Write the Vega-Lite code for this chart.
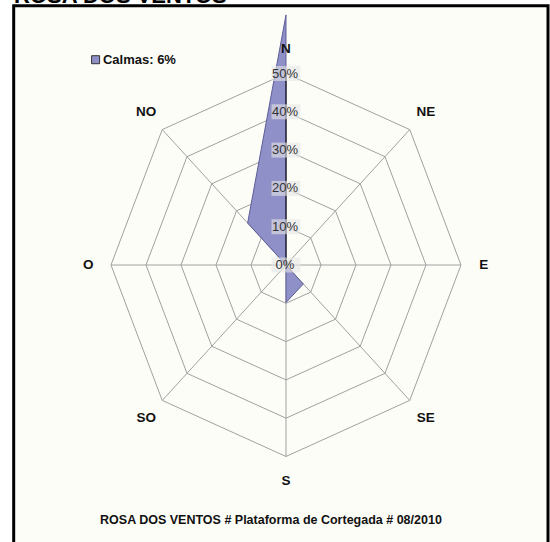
{
  "$schema": "https://vega.github.io/schema/vega-lite/v6.json",
  "width": 550,
  "height": 542,
  "padding": 0,
  "autosize": {"type": "none"},
  "background": "white",
  "config": {"view": {"stroke": null}, "font": "Liberation Sans"},
  "datasets": {
    "dirs": [
      {"dir": "N", "val": 65.3, "serie": "Calmas: 6%"},
      {"dir": "NE", "val": 0, "serie": "Calmas: 6%"},
      {"dir": "E", "val": 0, "serie": "Calmas: 6%"},
      {"dir": "SE", "val": 7, "serie": "Calmas: 6%"},
      {"dir": "S", "val": 9.8, "serie": "Calmas: 6%"},
      {"dir": "SO", "val": 0, "serie": "Calmas: 6%"},
      {"dir": "O", "val": 0, "serie": "Calmas: 6%"},
      {"dir": "NO", "val": 15.5, "serie": "Calmas: 6%"}
    ],
    "grid": [
      {"dir": "N", "ring": 0}, {"dir": "N", "ring": 10}, {"dir": "N", "ring": 20}, {"dir": "N", "ring": 30}, {"dir": "N", "ring": 40}, {"dir": "N", "ring": 50},
      {"dir": "NE", "ring": 0}, {"dir": "NE", "ring": 10}, {"dir": "NE", "ring": 20}, {"dir": "NE", "ring": 30}, {"dir": "NE", "ring": 40}, {"dir": "NE", "ring": 50},
      {"dir": "E", "ring": 0}, {"dir": "E", "ring": 10}, {"dir": "E", "ring": 20}, {"dir": "E", "ring": 30}, {"dir": "E", "ring": 40}, {"dir": "E", "ring": 50},
      {"dir": "SE", "ring": 0}, {"dir": "SE", "ring": 10}, {"dir": "SE", "ring": 20}, {"dir": "SE", "ring": 30}, {"dir": "SE", "ring": 40}, {"dir": "SE", "ring": 50},
      {"dir": "S", "ring": 0}, {"dir": "S", "ring": 10}, {"dir": "S", "ring": 20}, {"dir": "S", "ring": 30}, {"dir": "S", "ring": 40}, {"dir": "S", "ring": 50},
      {"dir": "SO", "ring": 0}, {"dir": "SO", "ring": 10}, {"dir": "SO", "ring": 20}, {"dir": "SO", "ring": 30}, {"dir": "SO", "ring": 40}, {"dir": "SO", "ring": 50},
      {"dir": "O", "ring": 0}, {"dir": "O", "ring": 10}, {"dir": "O", "ring": 20}, {"dir": "O", "ring": 30}, {"dir": "O", "ring": 40}, {"dir": "O", "ring": 50},
      {"dir": "NO", "ring": 0}, {"dir": "NO", "ring": 10}, {"dir": "NO", "ring": 20}, {"dir": "NO", "ring": 30}, {"dir": "NO", "ring": 40}, {"dir": "NO", "ring": 50}
    ],
    "ticks": [
      {"lab": "0%", "v": 0},
      {"lab": "10%", "v": 10},
      {"lab": "20%", "v": 20},
      {"lab": "30%", "v": 30},
      {"lab": "40%", "v": 40},
      {"lab": "50%", "v": 50}
    ],
    "one": [{"t": "ROSA DOS VENTOS # Plataforma de Cortegada # 08/2010", "h": "ROSA DOS VENTOS", "serie": "Calmas: 6%"}]
  },
  "layer": [
    {
      "data": {"name": "one"},
      "transform": [
        {"calculate": "-77.8", "as": "fx1"},
        {"calculate": "74.86", "as": "fx2"},
        {"calculate": "67.7", "as": "fy1"},
        {"calculate": "-80", "as": "fy2"}
      ],
      "mark": {"type": "rect", "fill": "#fdfdf8", "stroke": "#000000", "strokeWidth": 3, "clip": true},
      "encoding": {
        "x": {"field": "fx1", "type": "quantitative", "scale": {"domain": [-81.714, 75.429], "nice": false, "zero": false}, "axis": null},
        "x2": {"field": "fx2"},
        "y": {"field": "fy1", "type": "quantitative", "scale": {"domain": [-72.324, 69.191], "nice": false, "zero": false}, "axis": null},
        "y2": {"field": "fy2"}
      }
    },
    {
      "data": {"name": "grid"},
      "transform": [
        {"filter": "datum.ring > 0"},
        {"calculate": "indexof(['N','NE','E','SE','S','SO','O','NO'], datum.dir)", "as": "k"},
        {"calculate": "datum.ring*sin(datum.k*PI/4)", "as": "x"},
        {"calculate": "datum.ring*cos(datum.k*PI/4)", "as": "y"}
      ],
      "mark": {"type": "line", "interpolate": "linear-closed", "stroke": "#a0a0a0", "strokeWidth": 1},
      "encoding": {
        "x": {"field": "x", "type": "quantitative", "axis": null},
        "y": {"field": "y", "type": "quantitative", "axis": null},
        "detail": {"field": "ring", "type": "nominal"},
        "order": {"field": "k", "type": "quantitative"}
      }
    },
    {
      "data": {"name": "grid"},
      "transform": [
        {"filter": "datum.ring == 0 || datum.ring == 50"},
        {"calculate": "indexof(['N','NE','E','SE','S','SO','O','NO'], datum.dir)", "as": "k"},
        {"calculate": "datum.ring*sin(datum.k*PI/4)", "as": "x"},
        {"calculate": "datum.ring*cos(datum.k*PI/4)", "as": "y"}
      ],
      "mark": {"type": "line", "stroke": "#a0a0a0", "strokeWidth": 1},
      "encoding": {
        "x": {"field": "x", "type": "quantitative", "axis": null},
        "y": {"field": "y", "type": "quantitative", "axis": null},
        "detail": {"field": "dir", "type": "nominal"},
        "order": {"field": "ring", "type": "quantitative"}
      }
    },
    {
      "data": {"name": "dirs"},
      "transform": [
        {"calculate": "indexof(['N','NE','E','SE','S','SO','O','NO'], datum.dir)", "as": "k"},
        {"calculate": "datum.val*sin(datum.k*PI/4)", "as": "x"},
        {"calculate": "datum.val*cos(datum.k*PI/4)", "as": "y"}
      ],
      "mark": {"type": "line", "interpolate": "linear-closed", "stroke": "#5d5d98", "strokeWidth": 1, "fill": "#9090c8", "fillOpacity": 1},
      "encoding": {
        "x": {"field": "x", "type": "quantitative", "axis": null},
        "y": {"field": "y", "type": "quantitative", "axis": null},
        "order": {"field": "k", "type": "quantitative"}
      }
    },
    {
      "data": {"name": "grid"},
      "transform": [
        {"filter": "datum.dir == 'N' && (datum.ring == 0 || datum.ring == 50)"},
        {"calculate": "0", "as": "x"}
      ],
      "mark": {"type": "line", "stroke": "#000000", "strokeWidth": 1},
      "encoding": {
        "x": {"field": "x", "type": "quantitative", "axis": null},
        "y": {"field": "ring", "type": "quantitative", "axis": null},
        "order": {"field": "ring", "type": "quantitative"}
      }
    },
    {
      "data": {"name": "ticks"},
      "transform": [{"calculate": "0", "as": "x"}],
      "mark": {"type": "point", "shape": "M-1.45,-0.75L1.45,-0.75L1.45,0.75L-1.45,0.75Z", "size": 400, "filled": true, "fill": "#e6e6e6", "fillOpacity": 0.6, "strokeWidth": 0},
      "encoding": {
        "x": {"field": "x", "type": "quantitative", "axis": null},
        "y": {"field": "v", "type": "quantitative", "axis": null}
      }
    },
    {
      "data": {"name": "ticks"},
      "transform": [{"calculate": "0", "as": "x"}],
      "mark": {"type": "text", "fontSize": 13, "color": "#333333", "align": "center", "baseline": "middle", "dx": -1},
      "encoding": {
        "x": {"field": "x", "type": "quantitative", "axis": null},
        "y": {"field": "v", "type": "quantitative", "axis": null},
        "text": {"field": "lab", "type": "nominal"}
      }
    },
    {
      "data": {"name": "dirs"},
      "transform": [
        {"calculate": "indexof(['N','NE','E','SE','S','SO','O','NO'], datum.dir)", "as": "k"},
        {"calculate": "56.5*sin(datum.k*PI/4)", "as": "xl"},
        {"calculate": "56.5*cos(datum.k*PI/4)", "as": "yl"}
      ],
      "mark": {"type": "text", "fontSize": 13.5, "fontWeight": "bold", "color": "#111111", "align": "center", "baseline": "middle"},
      "encoding": {
        "x": {"field": "xl", "type": "quantitative", "axis": null},
        "y": {"field": "yl", "type": "quantitative", "axis": null},
        "text": {"field": "dir", "type": "nominal"}
      }
    },
    {
      "data": {"name": "one"},
      "transform": [
        {"calculate": "-54.4", "as": "lx"},
        {"calculate": "53.6", "as": "ly"}
      ],
      "mark": {"type": "point", "shape": "square", "size": 64, "filled": true, "fill": "#9090c8", "stroke": "#333333", "strokeWidth": 1, "opacity": 1},
      "encoding": {
        "x": {"field": "lx", "type": "quantitative", "axis": null},
        "y": {"field": "ly", "type": "quantitative", "axis": null}
      }
    },
    {
      "data": {"name": "one"},
      "transform": [
        {"calculate": "-52.3", "as": "lx"},
        {"calculate": "53.6", "as": "ly"}
      ],
      "mark": {"type": "text", "fontSize": 13, "fontWeight": "bold", "color": "#111111", "align": "left", "baseline": "middle"},
      "encoding": {
        "x": {"field": "lx", "type": "quantitative", "axis": null},
        "y": {"field": "ly", "type": "quantitative", "axis": null},
        "text": {"field": "serie", "type": "nominal"}
      }
    },
    {
      "data": {"name": "one"},
      "transform": [
        {"calculate": "-4.3", "as": "cx"},
        {"calculate": "-66.6", "as": "cy"}
      ],
      "mark": {"type": "text", "fontSize": 12.5, "fontWeight": "bold", "color": "#111111", "align": "center", "baseline": "middle"},
      "encoding": {
        "x": {"field": "cx", "type": "quantitative", "axis": null},
        "y": {"field": "cy", "type": "quantitative", "axis": null},
        "text": {"field": "t", "type": "nominal"}
      }
    },
    {
      "data": {"name": "one"},
      "transform": [
        {"calculate": "-77.7", "as": "tx"},
        {"calculate": "68.41", "as": "ty"}
      ],
      "mark": {"type": "text", "fontSize": 22, "fontWeight": "bold", "color": "#000000", "align": "left", "baseline": "alphabetic"},
      "encoding": {
        "x": {"field": "tx", "type": "quantitative", "axis": null},
        "y": {"field": "ty", "type": "quantitative", "axis": null},
        "text": {"field": "h", "type": "nominal"}
      }
    }
  ]
}
